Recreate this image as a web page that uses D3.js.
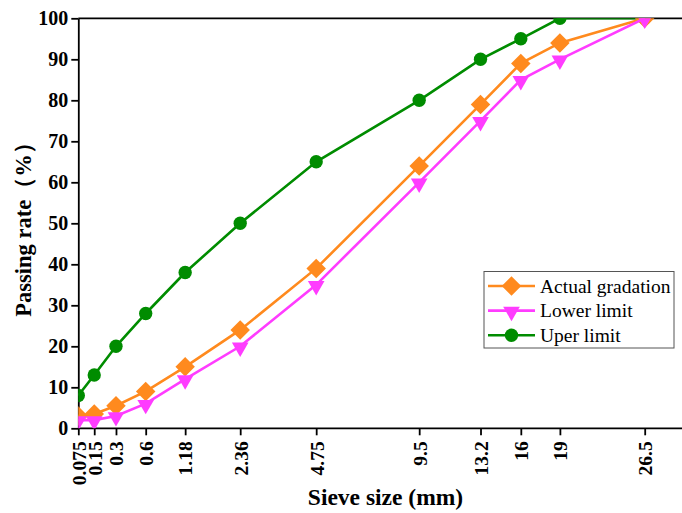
<!DOCTYPE html>
<html>
<head>
<meta charset="utf-8">
<script src="https://cdn.jsdelivr.net/npm/d3@7"></script>
<style>
  body { margin: 0; background: #fff; }
  svg { display: block; }
</style>
</head>
<body>
<script>
const sieves = [0.075, 0.15, 0.3, 0.6, 1.18, 2.36, 4.75, 9.5, 13.2, 16, 19, 26.5];
const sieveLabels = ["0.075", "0.15", "0.3", "0.6", "1.18", "2.36", "4.75", "9.5", "13.2", "16", "19", "26.5"];
const actual = [3, 3.5, 5.5, 9, 15, 24, 39, 64, 79, 89, 94, 100];
const lower = [2, 2, 3, 6, 12, 20, 35, 60, 75, 85, 90, 100];
const upper = [8, 13, 20, 28, 38, 50, 65, 80, 90, 95, 100, 100];
const yTicks = [0, 10, 20, 30, 40, 50, 60, 70, 80, 90, 100];

const series = [
  { name: "Actual gradation", values: actual, color: "#ff8a1e", symbol: "diamond" },
  { name: "Lower limit", values: lower, color: "#ff3cff", symbol: "triangle" },
  { name: "Uper limit", values: upper, color: "#008c00", symbol: "circle" }
];

const width = 682, height = 513;
const plotLeft = 78.3, plotTop = 18.3, plotBottom = 428.3, plotRight = 682;

const x = d3.scalePow().exponent(0.45).domain([0.075, 26.5]).range([plotLeft, 644.7]);
const y = d3.scaleLinear().domain([0, 100]).range([plotBottom, plotTop]);

const svg = d3.select("body").append("svg")
  .attr("width", width)
  .attr("height", height)
  .attr("font-family", "'Liberation Serif', 'Times New Roman', serif");

svg.append("defs").append("clipPath").attr("id", "plot-clip")
  .append("rect")
  .attr("x", plotLeft).attr("y", plotTop)
  .attr("width", plotRight - plotLeft).attr("height", plotBottom - plotTop);

// frame: top line
svg.append("line")
  .attr("x1", plotLeft).attr("x2", plotRight)
  .attr("y1", plotTop).attr("y2", plotTop)
  .attr("stroke", "#000").attr("stroke-width", 1.8);

const xAxis = svg.append("g")
  .attr("transform", `translate(0,${plotBottom})`)
  .call(d3.axisBottom(x).tickValues(sieves).tickFormat((d, i) => sieveLabels[i]).tickSize(7).tickSizeOuter(0));
xAxis.select(".domain").attr("d", `M${plotLeft},0H${plotRight}`).attr("stroke-width", 1.8);
xAxis.selectAll(".tick line").attr("stroke-width", 1.8);
xAxis.selectAll(".tick text")
  .attr("transform", "rotate(-90)")
  .attr("x", -13).attr("y", 0).attr("dy", "0.35em")
  .attr("text-anchor", "end")
  .attr("font-size", 19.5).attr("font-weight", "bold")
  .attr("font-family", "'Liberation Serif', serif")
  .attr("fill", "#000");

const yAxis = svg.append("g")
  .attr("transform", `translate(${plotLeft},0)`)
  .call(d3.axisLeft(y).tickValues(yTicks).tickSize(7).tickSizeOuter(0));
yAxis.select(".domain").attr("stroke-width", 1.8);
yAxis.selectAll(".tick line").attr("stroke-width", 1.8);
yAxis.selectAll(".tick text")
  .attr("x", -10)
  .attr("font-size", 20).attr("font-weight", "bold")
  .attr("font-family", "'Liberation Serif', serif")
  .attr("fill", "#000");

const symbolSize = { diamond: 190, triangle: 120, circle: 140 };
function symbolPath(name) {
  if (name === "diamond") return d3.symbol(d3.symbolSquare, symbolSize.diamond)();
  if (name === "triangle") return d3.symbol(d3.symbolTriangle, symbolSize.triangle)();
  return d3.symbol(d3.symbolCircle, symbolSize.circle)();
}
function symbolTransform(name, px, py) {
  if (name === "diamond") return `translate(${px},${py}) rotate(45)`;
  if (name === "triangle") return `translate(${px},${py + 1}) rotate(180)`;
  return `translate(${px},${py})`;
}

const plot = svg.append("g").attr("clip-path", "url(#plot-clip)");
const line = d3.line().x((d, i) => x(sieves[i])).y(d => y(d));

// draw upper first, then actual, then lower on top
[series[2], series[0], series[1]].forEach(s => {
  const g = plot.append("g");
  g.append("path")
    .attr("d", line(s.values))
    .attr("fill", "none")
    .attr("stroke", s.color)
    .attr("stroke-width", 2.6);
  g.selectAll("path.mark")
    .data(s.values)
    .join("path")
    .attr("class", "mark")
    .attr("d", symbolPath(s.symbol))
    .attr("transform", (d, i) => symbolTransform(s.symbol, x(sieves[i]), y(d)))
    .attr("fill", s.color);
});

// legend
const legend = svg.append("g");
legend.append("rect")
  .attr("x", 484).attr("y", 271.5)
  .attr("width", 190).attr("height", 76.5)
  .attr("fill", "#fff").attr("stroke", "#555").attr("stroke-width", 1);
series.forEach((s, i) => {
  const ly = 286 + i * 24.6;
  legend.append("line")
    .attr("x1", 488).attr("x2", 535)
    .attr("y1", ly).attr("y2", ly)
    .attr("stroke", s.color).attr("stroke-width", 2.6);
  legend.append("path")
    .attr("d", symbolPath(s.symbol))
    .attr("transform", symbolTransform(s.symbol, 511.5, ly))
    .attr("fill", s.color);
  legend.append("text")
    .attr("x", 540).attr("y", ly)
    .attr("dy", "0.35em")
    .attr("font-size", 19.5)
    .text(s.name);
});

svg.append("text")
  .attr("x", 385.5).attr("y", 505)
  .attr("text-anchor", "middle")
  .attr("font-size", 23.5).attr("font-weight", "bold")
  .text("Sieve size (mm)");

svg.append("text")
  .attr("transform", "translate(31,224) rotate(-90)")
  .attr("text-anchor", "middle")
  .attr("font-size", 22.5).attr("font-weight", "bold")
  .text("Passing rate（%）");
</script>
</body>
</html>
